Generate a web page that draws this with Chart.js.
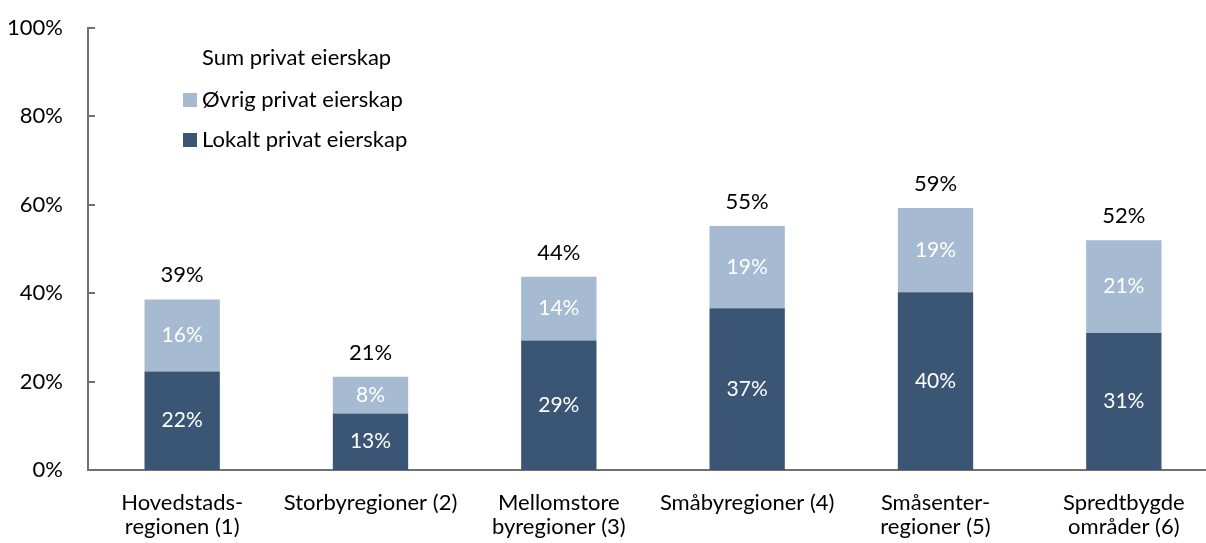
<!DOCTYPE html>
<html>
<head>
<meta charset="utf-8">
<script src="https://cdn.jsdelivr.net/npm/chart.js@4"></script>
<style>
  html, body { margin: 0; padding: 0; background: #fff; overflow: hidden; }
  #wrap { width: 1218px; height: 543px; }
</style>
</head>
<body>
<div id="wrap"><canvas id="myChart" width="1218" height="543"></canvas></div>
<script>
const regions = [
  ['Hovedstads-', 'regionen (1)'],
  'Storbyregioner (2)',
  ['Mellomstore', 'byregioner (3)'],
  'Småbyregioner (4)',
  ['Småsenter-', 'regioner (5)'],
  ['Spredtbygde', 'områder (6)']
];
const lokaltPrivat = [22.3, 12.8, 29.3, 36.6, 40.2, 31.0];
const ovrigPrivat = [16.3, 8.3, 14.4, 18.6, 19.1, 21.0];
const yTicks = [0, 20, 40, 60, 80, 100];

const DARK = '#3b5674';
const LIGHT = '#a6bad2';
const AXIS = '#707070';
const FONT = 'Lato';

// data labels, totals, inward y ticks and the legend box
const extras = {
  id: 'extras',
  afterDatasetsDraw(chart) {
    const ctx = chart.ctx;
    const area = chart.chartArea;
    ctx.save();
    ctx.textAlign = 'center';
    ctx.textBaseline = 'middle';
    ctx.font = '21px ' + FONT;
    ctx.fillStyle = '#ffffff';
    chart.data.datasets.forEach((ds, i) => {
      chart.getDatasetMeta(i).data.forEach((bar, j) => {
        ctx.fillText(Math.round(ds.data[j]) + '%', bar.x, (bar.y + bar.base) / 2);
      });
    });

    ctx.font = '22px ' + FONT;
    ctx.fillStyle = '#000000';
    chart.getDatasetMeta(1).data.forEach((bar, j) => {
      const sum = lokaltPrivat[j] + ovrigPrivat[j];
      ctx.fillText(Math.round(sum) + '%', bar.x, bar.y - 24);
    });

    const y = chart.scales.y;
    ctx.strokeStyle = AXIS;
    ctx.lineWidth = 2;
    yTicks.forEach(v => {
      const py = Math.round(y.getPixelForValue(v));
      ctx.beginPath();
      ctx.moveTo(area.left, py);
      ctx.lineTo(area.left + 7, py);
      ctx.stroke();
    });

    // legend
    ctx.textAlign = 'left';
    ctx.font = '22px ' + FONT;
    ctx.fillStyle = '#000000';
    ctx.fillText('Sum privat eierskap', 202, 58);
    const items = [[chart.data.datasets[1], 100], [chart.data.datasets[0], 140]];
    items.forEach(([ds, ly]) => {
      ctx.fillStyle = ds.backgroundColor;
      ctx.fillRect(183, ly - 7, 14, 14);
      ctx.fillStyle = '#000000';
      ctx.fillText(ds.label, 202, ly);
    });
    ctx.restore();
  }
};

const ctx = document.getElementById('myChart').getContext('2d');
new Chart(ctx, {
  type: 'bar',
  data: {
    labels: regions,
    datasets: [
      {
        label: 'Lokalt privat eierskap',
        data: lokaltPrivat,
        backgroundColor: DARK,
        borderWidth: 0
      },
      {
        label: 'Øvrig privat eierskap',
        data: ovrigPrivat,
        backgroundColor: LIGHT,
        borderWidth: 0
      }
    ]
  },
  options: {
    responsive: false,
    animation: false,
    layout: { padding: { top: 28, left: 0, right: 0, bottom: 0 } },
    datasets: {
      bar: { categoryPercentage: 1, barPercentage: 0.4 }
    },
    plugins: {
      legend: { display: false },
      tooltip: { enabled: false }
    },
    scales: {
      x: {
        stacked: true,
        grid: { display: false, drawTicks: false },
        border: { display: true, color: AXIS, width: 2 },
        ticks: {
          color: '#000',
          padding: 21,
          maxRotation: 0,
          autoSkip: false,
          font: { family: FONT, size: 22, lineHeight: 1.1 }
        },
        afterFit(scale) { scale.height = 73; }
      },
      y: {
        stacked: true,
        min: 0,
        max: 100,
        grid: { display: false, drawTicks: false },
        border: { display: true, color: AXIS, width: 2 },
        ticks: {
          stepSize: 20,
          color: '#000',
          padding: 25,
          font: { family: FONT, size: 22 },
          callback: v => v + '%'
        },
        afterFit(scale) {
          scale.width = 88;
          scale.paddingTop = 0;
          scale.paddingBottom = 0;
        }
      }
    }
  },
  plugins: [extras]
});
</script>
</body>
</html>
